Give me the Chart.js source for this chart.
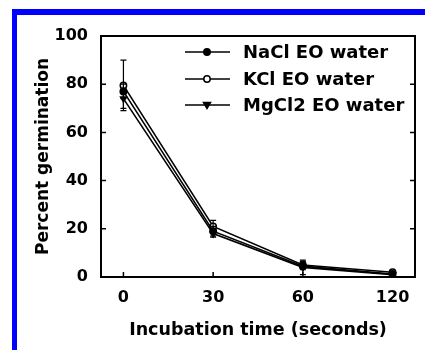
<!DOCTYPE html>
<html>
<head>
<meta charset="utf-8">
<script src="https://cdn.jsdelivr.net/npm/chart.js@4"></script>
<style>
  body { margin: 0; background: #fff; }
  #wrap { position: relative; width: 425px; height: 350px; }
  #frame {
    position: absolute; left: 12px; top: 9px; right: 0; bottom: 0;
    border-top: 6px solid #0000ff; border-left: 5px solid #0000ff;
  }
  canvas { position: absolute; left: 0; top: 0; }
</style>
</head>
<body>
<div id="wrap">
  <div id="frame"></div>
  <canvas id="chart" width="425" height="350"></canvas>
</div>
<script>
const timeLabels = ['0', '30', '60', '120'];
const yTicks = [0, 20, 40, 60, 80, 100];

const naclValues = [77, 19, 4.5, 1.2];
const naclErrors = [3, 2, 1.5, 0.5];
const kclValues = [79.5, 21, 5, 2];
const kclErrors = [10.5, 2.5, 1.5, 0.5];
const mgcl2Values = [74, 18, 4, 1];
const mgcl2Errors = [4, 1.5, 3, 0.5];

const font = 'DejaVu Sans';
const ctx = document.getElementById('chart').getContext('2d');

function toPoints(values) {
    return values.map((v, i) => ({ x: i, y: v }));
}

// error bars, inside ticks, plot frame and the legend box
const extras = {
    id: 'extras',
    afterDatasetsDraw(chart) {
        const c = chart.ctx;
        const xs = chart.scales.x;
        const ys = chart.scales.y;
        const area = chart.chartArea;
        c.save();
        c.strokeStyle = '#000';
        c.lineWidth = 1.2;
        chart.data.datasets.forEach((ds, d) => {
            ds.data.forEach((p, i) => {
                const e = ds.errors[i];
                const x = xs.getPixelForValue(p.x);
                const top = ys.getPixelForValue(p.y + e);
                const bot = ys.getPixelForValue(Math.max(p.y - e, 0));
                c.beginPath();
                c.moveTo(x, top); c.lineTo(x, bot);
                c.moveTo(x - 3, top); c.lineTo(x + 3, top);
                c.moveTo(x - 3, bot); c.lineTo(x + 3, bot);
                c.stroke();
            });
        });

        c.lineWidth = 2;
        c.strokeRect(area.left, area.top, area.right - area.left, area.bottom - area.top);
        c.lineWidth = 1.5;
        c.beginPath();
        yTicks.forEach(v => {
            const y = ys.getPixelForValue(v);
            c.moveTo(area.left, y); c.lineTo(area.left + 5, y);
            c.moveTo(area.right, y); c.lineTo(area.right - 5, y);
        });
        timeLabels.forEach((t, i) => {
            const x = xs.getPixelForValue(i);
            c.moveTo(x, area.bottom); c.lineTo(x, area.bottom - 5);
        });
        c.stroke();

        // legend
        const rows = [52, 79, 105];
        c.font = 'bold 18px "' + font + '"';
        c.textBaseline = 'middle';
        c.fillStyle = '#000';
        chart.data.datasets.forEach((ds, d) => {
            const y = rows[d];
            c.lineWidth = 1.5;
            c.beginPath();
            c.moveTo(185, y); c.lineTo(230, y);
            c.stroke();
            drawMarker(c, ds, 207, y);
            c.fillStyle = '#000';
            c.fillText(ds.label, 243, y + 1);
        });
        c.restore();
    }
};

function drawMarker(c, ds, x, y) {
    c.beginPath();
    if (ds.pointStyle === 'triangle') {
        c.moveTo(x - 3.5, y - 2.5);
        c.lineTo(x + 3.5, y - 2.5);
        c.lineTo(x, y + 3.5);
        c.closePath();
    } else {
        c.arc(x, y, ds.pointRadius, 0, Math.PI * 2);
    }
    c.fillStyle = ds.pointBackgroundColor;
    c.fill();
    c.lineWidth = 1.5;
    c.stroke();
}

new Chart(ctx, {
    type: 'line',
    data: {
        datasets: [
            {
                label: 'NaCl EO water',
                data: toPoints(naclValues),
                errors: naclErrors,
                borderColor: '#000',
                borderWidth: 1.6,
                pointStyle: 'circle',
                pointRadius: 3.2,
                pointBackgroundColor: '#000',
                pointBorderColor: '#000'
            },
            {
                label: 'KCl EO water',
                data: toPoints(kclValues),
                errors: kclErrors,
                borderColor: '#000',
                borderWidth: 1.6,
                pointStyle: 'circle',
                pointRadius: 3.2,
                pointBorderWidth: 1.5,
                pointBackgroundColor: '#fff',
                pointBorderColor: '#000'
            },
            {
                label: 'MgCl2 EO water',
                data: toPoints(mgcl2Values),
                errors: mgcl2Errors,
                borderColor: '#000',
                borderWidth: 1.6,
                pointStyle: 'triangle',
                pointRotation: 180,
                pointRadius: 3.2,
                pointBackgroundColor: '#000',
                pointBorderColor: '#000'
            }
        ]
    },
    options: {
        responsive: false,
        animation: false,
        layout: { padding: { left: 0, top: 36, right: 10, bottom: 0 } },
        plugins: {
            legend: { display: false },
            tooltip: { enabled: false }
        },
        scales: {
            x: {
                type: 'linear',
                min: -0.25,
                max: 3.25,
                afterBuildTicks: (s) => { s.ticks = timeLabels.map((t, i) => ({ value: i })); },
                afterFit: (s) => { s.height = 73; },
                grid: { display: false, drawTicks: false },
                border: { display: false },
                ticks: {
                    padding: 11,
                    color: '#000',
                    font: { family: font, size: 16, weight: 'bold' },
                    callback: (v) => timeLabels[v]
                },
                title: {
                    display: true,
                    text: 'Incubation time (seconds)',
                    color: '#000',
                    font: { family: font, size: 17.5, weight: 'bold' },
                    padding: { top: 0, bottom: 9 }
                }
            },
            y: {
                min: 0,
                max: 100,
                afterBuildTicks: (s) => { s.ticks = yTicks.map(v => ({ value: v })); },
                afterFit: (s) => { s.width = 101; },
                grid: { display: false, drawTicks: false },
                border: { display: false },
                ticks: {
                    padding: 13,
                    color: '#000',
                    font: { family: font, size: 16, weight: 'bold' }
                },
                title: {
                    display: true,
                    text: 'Percent germination',
                    color: '#000',
                    font: { family: font, size: 17, weight: 'bold' },
                    padding: { top: 33, bottom: 0 }
                }
            }
        }
    },
    plugins: [extras]
});
</script>
</body>
</html>
